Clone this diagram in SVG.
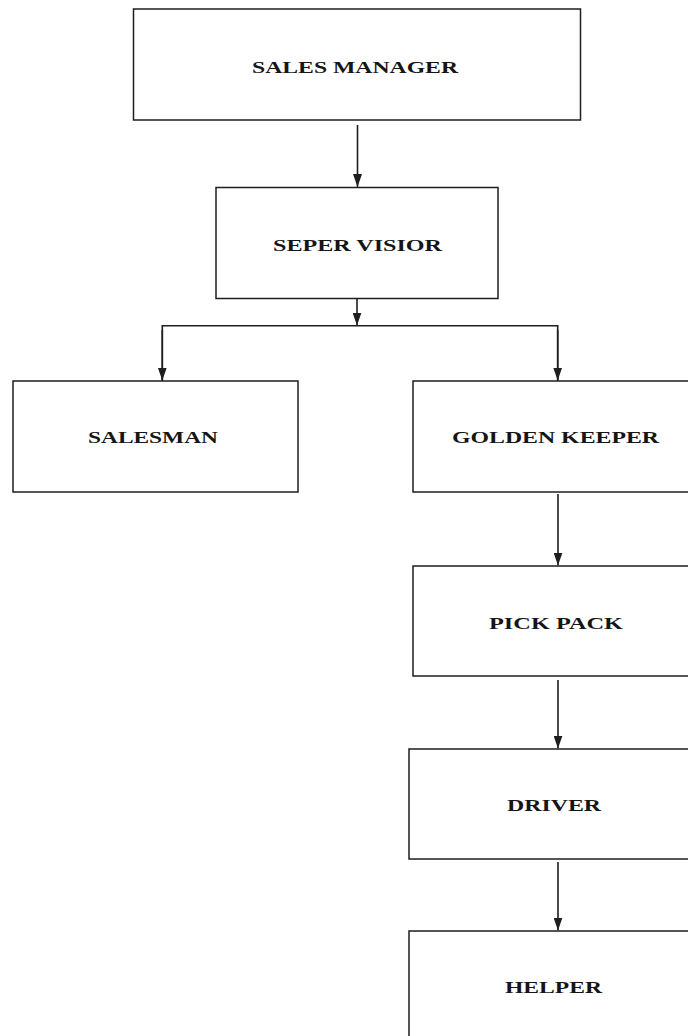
<svg xmlns="http://www.w3.org/2000/svg" width="688" height="1036" viewBox="0 0 688 1036">
<style>
.box{fill:#fff;stroke:#1e1e1e;stroke-width:1.5}
.lbl{font-family:"Liberation Serif","Times New Roman",serif;font-weight:bold;font-size:17.5px;fill:#151515}
.con{fill:none;stroke:#1e1e1e;stroke-width:1.6}
</style>
<defs>
<marker id="ah" markerWidth="13" markerHeight="9" refX="13" refY="4.5" orient="auto" markerUnits="userSpaceOnUse">
<path d="M0,0 L13,4.5 L0,9 Z" fill="#1e1e1e"/>
</marker>
</defs>
<rect width="688" height="1036" fill="#fff"/>
<g id="connectors">
<path class="con" d="M357.5,125 V187" marker-end="url(#ah)"/>
<path class="con" d="M357,298.5 V325.5" marker-end="url(#ah)"/>
<path class="con" d="M162.3,381 V325.7 H557.7 V381"/>
<path class="con" d="M162.3,330 V380.5" marker-end="url(#ah)"/>
<path class="con" d="M557.7,330 V380.5" marker-end="url(#ah)"/>
<path class="con" d="M558,494 V565.5" marker-end="url(#ah)"/>
<path class="con" d="M558,680 V748.5" marker-end="url(#ah)"/>
<path class="con" d="M558,862 V930.5" marker-end="url(#ah)"/>
</g>
<g id="sales-manager">
<rect class="box" x="133.5" y="9" width="447" height="111"/>
<text class="lbl" x="252" y="72.5" textLength="206" lengthAdjust="spacingAndGlyphs">SALES MANAGER</text>
</g>
<g id="supervisor">
<rect class="box" x="216" y="187.5" width="282" height="111"/>
<text class="lbl" x="273" y="250.5" textLength="169" lengthAdjust="spacingAndGlyphs">SEPER VISIOR</text>
</g>
<g id="salesman">
<rect class="box" x="13" y="381" width="285" height="111"/>
<text class="lbl" x="88" y="442.5" textLength="130" lengthAdjust="spacingAndGlyphs">SALESMAN</text>
</g>
<g id="golden-keeper">
<rect class="box" x="413" y="381" width="290" height="111"/>
<text class="lbl" x="452" y="443" textLength="207" lengthAdjust="spacingAndGlyphs">GOLDEN KEEPER</text>
</g>
<g id="pick-pack">
<rect class="box" x="413" y="566" width="290" height="110"/>
<text class="lbl" x="489" y="628.5" textLength="134" lengthAdjust="spacingAndGlyphs">PICK PACK</text>
</g>
<g id="driver">
<rect class="box" x="409" y="749" width="294" height="110"/>
<text class="lbl" x="507" y="810.5" textLength="94" lengthAdjust="spacingAndGlyphs">DRIVER</text>
</g>
<g id="helper">
<rect class="box" x="409" y="931" width="294" height="120"/>
<text class="lbl" x="505" y="992.5" textLength="97" lengthAdjust="spacingAndGlyphs">HELPER</text>
</g>
</svg>
